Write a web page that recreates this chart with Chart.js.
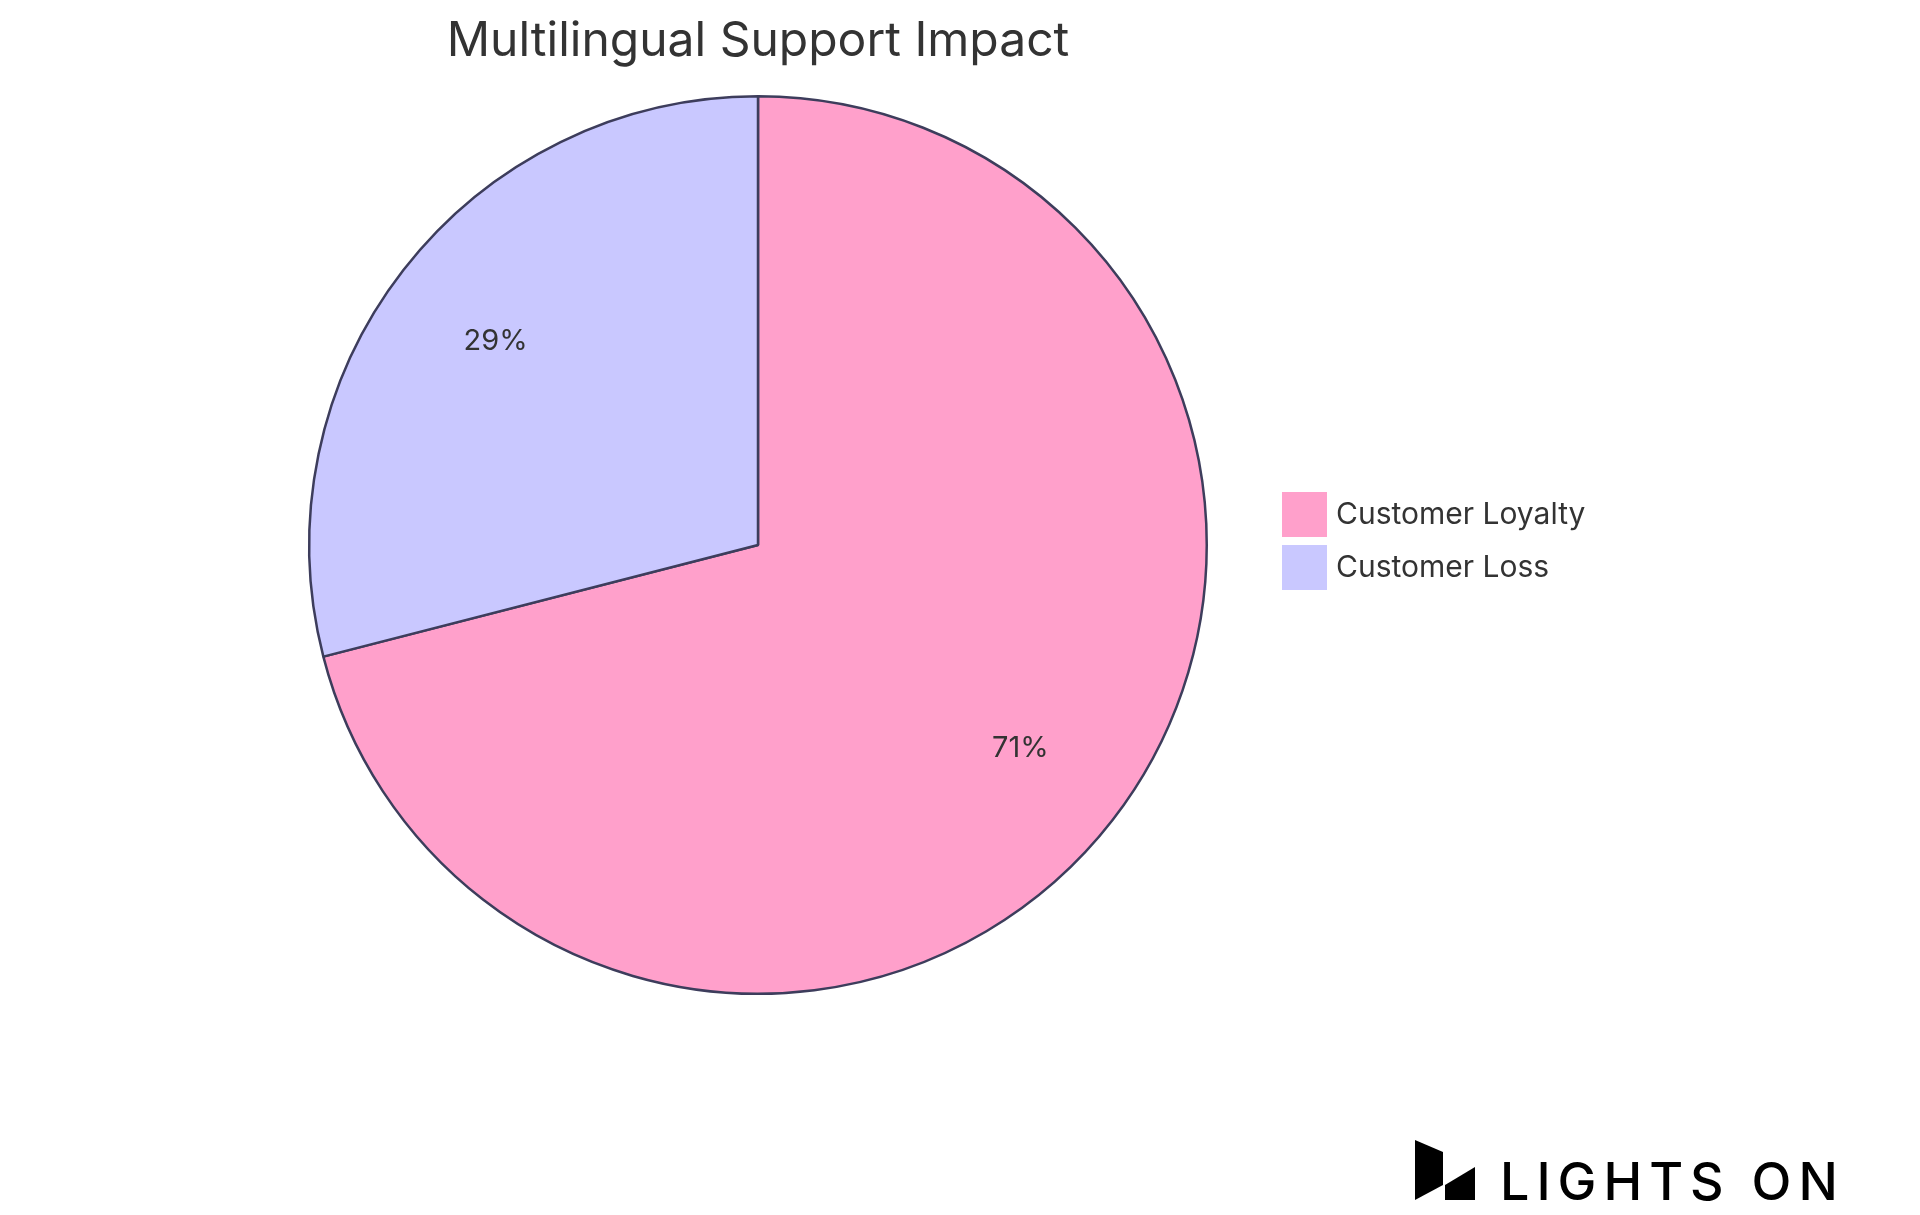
<!DOCTYPE html>
<html><head><meta charset="utf-8">
<script src="https://cdn.jsdelivr.net/npm/chart.js@4.4.0/dist/chart.umd.min.js"></script>
<style>html,body{margin:0;padding:0;background:#fff}#w{width:1920px;height:1215px}</style>
</head><body><div id="w"><canvas id="c" width="1920" height="1215"></canvas></div>
<script>
const categories = ["Customer Loyalty", "Customer Loss"];
const values = [71, 29];
const colors = ["#FFA0CB", "#C9C8FF"];
const title = "Multilingual Support Impact";
const FONT = "Inter, 'Open Sans', sans-serif";

const overlay = {
  id: "overlay",
  afterDraw(chart) {
    const ctx = chart.ctx;
    const total = values.reduce((a, b) => a + b, 0);
    ctx.save();
    ctx.fillStyle = "#333";
    ctx.textAlign = "center"; ctx.textBaseline = "middle";
    ctx.font = "48px " + FONT;
    ctx.fillText(title, 758, 42);
    const meta = chart.getDatasetMeta(0);
    ctx.font = "29px " + FONT;
    meta.data.forEach((arc, i) => {
      const a = (arc.startAngle + arc.endAngle) / 2;
      const r = arc.outerRadius * 0.74;
      ctx.fillText(Math.round(values[i] / total * 100) + "%", arc.x + Math.cos(a) * r, arc.y + Math.sin(a) * r);
    });
    ctx.textAlign = "left";
    ctx.font = "30px " + FONT;
    categories.forEach((c, i) => {
      const y = 515 + i * 53;
      ctx.fillStyle = colors[i];
      ctx.fillRect(1282, y - 23, 45, 45);
      ctx.fillStyle = "#333";
      ctx.fillText(c, 1336, y);
    });
    // logo
    ctx.fillStyle = "#000";
    ctx.beginPath();
    ctx.moveTo(1415, 1140); ctx.lineTo(1443, 1152); ctx.lineTo(1443, 1185); ctx.lineTo(1415, 1200); ctx.closePath(); ctx.fill();
    ctx.beginPath();
    ctx.moveTo(1445, 1185); ctx.lineTo(1475, 1167); ctx.lineTo(1475, 1200); ctx.lineTo(1445, 1200); ctx.closePath(); ctx.fill();
    ctx.font = "500 52px " + FONT;
    ctx.textBaseline = "alphabetic";
    if (ctx.letterSpacing !== undefined) ctx.letterSpacing = "7px";
    ctx.fillText("LIGHTS ON", 1500, 1200);
    ctx.restore();
  }
};

new Chart(document.getElementById("c"), {
  type: "pie",
  data: { labels: categories, datasets: [{ data: values, backgroundColor: colors, borderColor: "#3d3d5c", borderWidth: 2.5 }] },
  options: {
    responsive: false, animation: false,
    layout: { padding: { left: 308, right: 712, top: 95, bottom: 220 } },
    plugins: { legend: { display: false }, tooltip: { enabled: false } }
  },
  plugins: [overlay]
});
</script></body></html>
